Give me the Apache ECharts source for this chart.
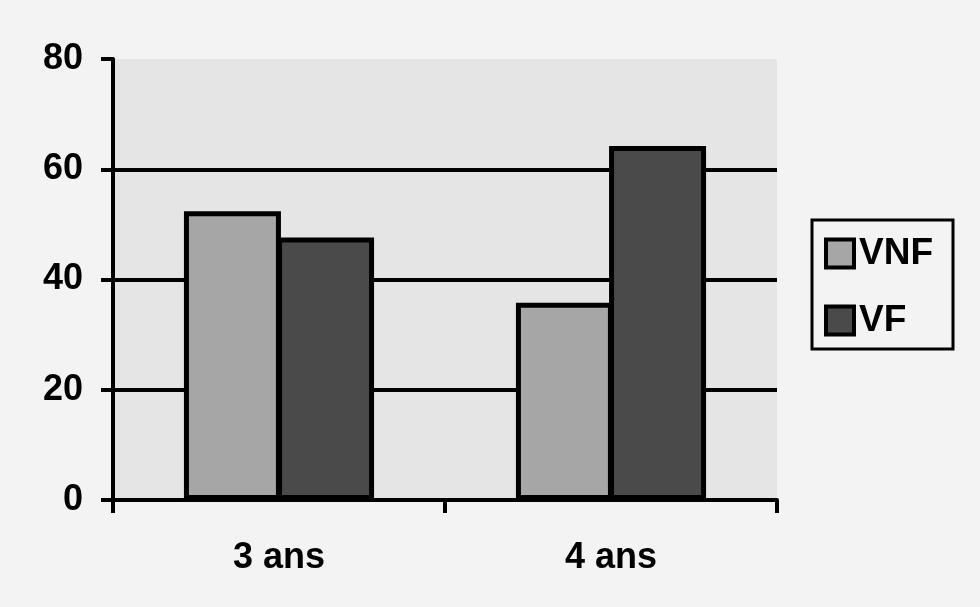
<!DOCTYPE html>
<html>
<head>
<meta charset="utf-8">
<script src="https://cdn.jsdelivr.net/npm/echarts@6/dist/echarts.min.js"></script>
<style>
  html, body { margin: 0; padding: 0; background: #f3f3f3; }
  #chart { width: 980px; height: 607px; }
</style>
</head>
<body>
<div id="chart"></div>
<script>
// Age groups on the category axis
const categories = ['3 ans', '4 ans'];
// Percentages per group
const vnfValues = [52.4, 35.8];
const vfValues = [47.6, 64.2];
// Value axis range
const yMin = 0;
const yMax = 80;
const yStep = 20;

const FONT = '"Liberation Sans", Arial, sans-serif';

const chart = echarts.init(document.getElementById('chart'), null, { renderer: 'canvas' });

const barBorder = { borderColor: '#000', borderWidth: 5 };

chart.setOption({
  backgroundColor: '#f3f3f3',
  animation: false,
  grid: {
    left: 113,
    right: 203,
    top: 59,
    bottom: 107,
    show: true,
    backgroundColor: '#e5e5e5',
    borderWidth: 0
  },
  legend: {
    orient: 'vertical',
    left: 812,
    top: 220,
    padding: [15, 20, 10, 12],
    itemGap: 30,
    itemWidth: 28,
    itemHeight: 28,
    backgroundColor: '#f3f3f3',
    borderColor: '#000',
    borderWidth: 3,
    borderRadius: 0,
    icon: 'rect',
    itemStyle: { borderColor: '#000', borderWidth: 4 },
    textStyle: { fontFamily: FONT, fontWeight: 'bold', fontSize: 37, color: '#000', padding: [3, 0, 0, 0] },
    data: ['VNF', 'VF']
  },
  xAxis: {
    type: 'category',
    data: categories,
    axisLine: { show: true, lineStyle: { color: '#000', width: 4 } },
    axisTick: { show: true, length: 13, lineStyle: { color: '#000', width: 4 } },
    axisLabel: { fontFamily: FONT, fontWeight: 'bold', fontSize: 36, color: '#000', margin: 40 },
    splitLine: { show: false }
  },
  yAxis: {
    type: 'value',
    min: yMin,
    max: yMax,
    interval: yStep,
    axisLine: { show: true, lineStyle: { color: '#000', width: 4 } },
    axisTick: { show: true, length: 12, lineStyle: { color: '#000', width: 4 } },
    axisLabel: { fontFamily: FONT, fontWeight: 'bold', fontSize: 36, color: '#000', margin: 30 },
    splitLine: { show: true, showMinLine: false, showMaxLine: false, lineStyle: { color: '#000', width: 4 } }
  },
  series: [
    {
      name: 'VNF',
      type: 'bar',
      data: vnfValues,
      barWidth: 97,
      barGap: '-4%',
      itemStyle: Object.assign({ color: '#a6a6a6' }, barBorder)
    },
    {
      name: 'VF',
      type: 'bar',
      data: vfValues,
      barWidth: 97,
      barGap: '-4%',
      itemStyle: Object.assign({ color: '#4a4a4a' }, barBorder)
    }
  ]
});
</script>
</body>
</html>
